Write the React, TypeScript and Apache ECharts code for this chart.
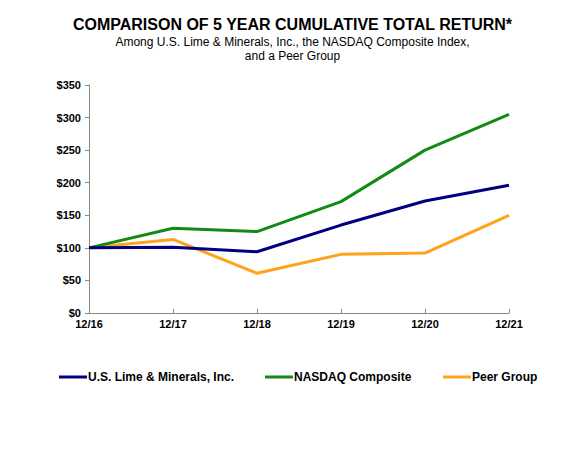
import React, { useEffect, useRef } from "react";
import * as echarts from "echarts";

const categories = ["12/16", "12/17", "12/18", "12/19", "12/20", "12/21"];
const usLime = [100, 101, 94, 135, 172, 196];
const nasdaq = [100, 130, 125, 171, 250, 305];
const peer = [100, 113, 61, 90, 92, 150];
const seriesNames = ["U.S. Lime & Minerals, Inc.", "NASDAQ Composite", "Peer Group"];
const colors = ["#000080", "#138a13", "#ffa31a"];

export default function App() {
  const ref = useRef<HTMLDivElement>(null);
  useEffect(() => {
    document.body.style.margin = "0";
    const chart = echarts.init(ref.current!, null, { renderer: "svg" });
    const font = "Liberation Sans, Arial, sans-serif";
    const legendPos = [59, 265, 443];
    chart.setOption({
      animation: false,
      backgroundColor: "#fff",
      textStyle: { fontFamily: font },
      title: [
        {
          text: "COMPARISON OF 5 YEAR CUMULATIVE TOTAL RETURN*",
          left: "center",
          top: 11,
          textStyle: { fontSize: 16, fontWeight: "bold", color: "#000", fontFamily: font },
        },
        {
          text: "Among U.S. Lime & Minerals, Inc., the NASDAQ Composite Index,\nand a Peer Group",
          left: "center",
          top: 30,
          textStyle: { fontSize: 12, fontWeight: "normal", color: "#000", lineHeight: 14, fontFamily: font, align: "center" },
        },
      ],
      legend: seriesNames.map((n, i) => ({
        data: [n],
        left: legendPos[i],
        top: 371,
        padding: 0,
        itemWidth: 28,
        itemHeight: 3,
        itemGap: 2,
        icon: "rect",
        textStyle: { fontSize: 12, fontWeight: "bold", color: "#000", fontFamily: font, padding: [0, 0, 0, -4] },
      })),
      grid: { left: 89, right: 76, top: 85, bottom: 136 },
      xAxis: {
        type: "category",
        data: categories,
        boundaryGap: false,
        axisLine: { lineStyle: { color: "#888" } },
        axisTick: { inside: true, length: 4, lineStyle: { color: "#888" } },
        axisLabel: { fontSize: 11, fontWeight: "bold", color: "#000", margin: 5 },
      },
      yAxis: {
        type: "value",
        min: 0,
        max: 350,
        interval: 50,
        splitLine: { show: false },
        axisLine: { show: true, lineStyle: { color: "#888" } },
        axisTick: { show: true, length: 4, lineStyle: { color: "#888" } },
        axisLabel: { fontSize: 11, fontWeight: "bold", color: "#000", formatter: "${value}", margin: 8 },
      },
      series: [usLime, nasdaq, peer].map((d, i) => ({
        name: seriesNames[i],
        type: "line",
        data: d,
        symbol: "none",
        color: colors[i],
        lineStyle: { width: 3, color: colors[i] },
        z: 3 - i,
      })),
    });
    return () => chart.dispose();
  }, []);
  return <div ref={ref} style={{ width: 585, height: 449 }} />;
}
